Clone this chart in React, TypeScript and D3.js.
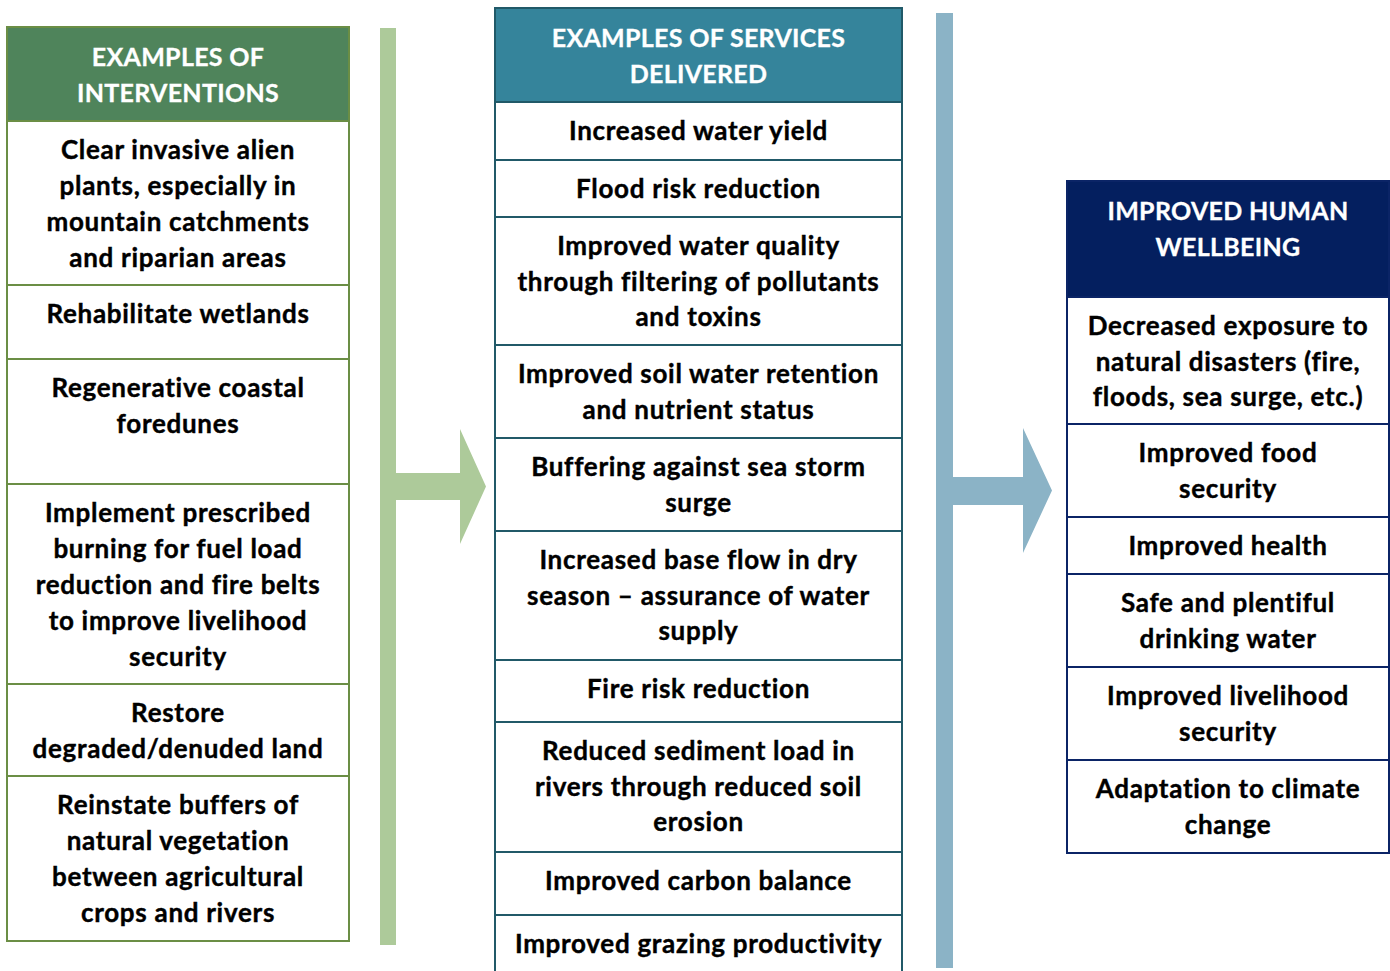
import { useRef, useEffect } from 'react'
import * as d3 from 'd3'

// Texto de cada columna (una entrada por celda, una cadena por línea)
const interventionsHeader = ['EXAMPLES OF', 'INTERVENTIONS']
const interventions = [
  ['Clear invasive alien', 'plants, especially in', 'mountain catchments', 'and riparian areas'],
  ['Rehabilitate wetlands'],
  ['Regenerative coastal', 'foredunes'],
  ['Implement prescribed', 'burning for fuel load', 'reduction and fire belts', 'to improve livelihood', 'security'],
  ['Restore', 'degraded/denuded land'],
  ['Reinstate buffers of', 'natural vegetation', 'between agricultural', 'crops and rivers'],
]

const servicesHeader = ['EXAMPLES OF SERVICES', 'DELIVERED']
const services = [
  ['Increased water yield'],
  ['Flood risk reduction'],
  ['Improved water quality', 'through filtering of pollutants', 'and toxins'],
  ['Improved soil water retention', 'and nutrient status'],
  ['Buffering against sea storm', 'surge'],
  ['Increased base flow in dry', 'season – assurance of water', 'supply'],
  ['Fire risk reduction'],
  ['Reduced sediment load in', 'rivers through reduced soil', 'erosion'],
  ['Improved carbon balance'],
  ['Improved grazing productivity'],
]

const wellbeingHeader = ['IMPROVED HUMAN', 'WELLBEING']
const wellbeing = [
  ['Decreased exposure to', 'natural disasters (fire,', 'floods, sea surge, etc.)'],
  ['Improved food', 'security'],
  ['Improved health'],
  ['Safe and plentiful', 'drinking water'],
  ['Improved livelihood', 'security'],
  ['Adaptation to climate', 'change'],
]

// Maquetación (bordes de filas en px)
const columns = [
  { header: interventionsHeader, cells: interventions, x0: 7, x1: 349,
    edges: [27, 121, 285, 359, 484, 684, 776, 941],
    fill: '#4f845b', stroke: '#6b8e45', lineH: 36 },
  { header: servicesHeader, cells: services, x0: 495, x1: 902,
    edges: [8, 102, 160, 217, 345, 438, 531, 660, 722, 852, 915, 985],
    fill: '#35849b', stroke: '#215968', lineH: 35.5 },
  { header: wellbeingHeader, cells: wellbeing, x0: 1067, x1: 1389,
    edges: [181, 297, 424, 517, 574, 667, 760, 853],
    fill: '#041f5f', stroke: '#0b2466', lineH: 35.5 },
]

const arrows = [
  { x0: 380, x1: 396, top: 28, bottom: 945, bandTop: 473, bandBottom: 500, headX: 460, tipX: 486, headTop: 429, headBottom: 544, fill: '#adca9a' },
  { x0: 936, x1: 953, top: 13, bottom: 968, bandTop: 477, bandBottom: 505, headX: 1023, tipX: 1052, headTop: 428, headBottom: 553, fill: '#8bb3c6' },
]

const FONT = 'Lato, "Open Sans", sans-serif'

export default function App() {
  const svgRef = useRef<SVGSVGElement>(null)

  useEffect(() => {
    const svg = d3.select(svgRef.current)
    svg.selectAll('*').remove()

    // Flechas
    arrows.forEach(a => {
      const cy = (a.headTop + a.headBottom) / 2
      const pts: [number, number][] = [
        [a.x0, a.top], [a.x1, a.top], [a.x1, a.bandTop], [a.headX, a.bandTop],
        [a.headX, a.headTop], [a.tipX, cy], [a.headX, a.headBottom],
        [a.headX, a.bandBottom], [a.x1, a.bandBottom], [a.x1, a.bottom], [a.x0, a.bottom],
      ]
      svg.append('path')
        .attr('d', d3.line()(pts) + 'Z')
        .attr('fill', a.fill)
    })

    columns.forEach(col => {
      const g = svg.append('g')
      const cx = (col.x0 + col.x1) / 2
      const w = col.x1 - col.x0
      const e = col.edges

      // Cabecera
      g.append('rect')
        .attr('x', col.x0).attr('y', e[0])
        .attr('width', w).attr('height', e[1] - e[0])
        .attr('fill', col.fill)
      g.append('text')
        .attr('text-anchor', 'middle')
        .attr('font-family', FONT)
        .attr('font-weight', 700)
        .attr('font-size', '25px')
        .attr('letter-spacing', '0.3px')
        .attr('fill', '#fff')
        .attr('stroke', '#fff')
        .attr('stroke-width', 0.3)
        .selectAll('tspan')
        .data(col.header)
        .join('tspan')
        .attr('x', cx)
        .attr('y', (d, i) => e[0] + 30 + i * col.lineH + 9)
        .text(d => d)

      // Celdas
      col.cells.forEach((lines, k) => {
        const top = e[k + 1]
        const bottom = e[k + 2]
        g.append('rect')
          .attr('x', col.x0).attr('y', top)
          .attr('width', w).attr('height', bottom - top)
          .attr('fill', '#fff')
          .attr('stroke', col.stroke)
          .attr('stroke-width', 2)
        g.append('text')
          .attr('text-anchor', 'middle')
          .attr('font-family', FONT)
          .attr('font-weight', 700)
          .attr('font-size', '26px')
          .attr('letter-spacing', '0.7px')
          .attr('fill', '#000')
          .attr('stroke', '#000')
          .attr('stroke-width', 0.4)
          .selectAll('tspan')
          .data(lines)
          .join('tspan')
          .attr('x', cx)
          .attr('y', (d, i) => top + 29 + i * col.lineH + 9)
          .text(d => d)
      })

      // Borde exterior
      g.append('rect')
        .attr('x', col.x0).attr('y', e[0])
        .attr('width', w).attr('height', e[e.length - 1] - e[0])
        .attr('fill', 'none')
        .attr('stroke', col.stroke)
        .attr('stroke-width', 2)
    })
  }, [])

  return (
    <svg ref={svgRef} width={1390} height={971}
      style={{ position: 'absolute', left: 0, top: 0, display: 'block', background: '#fff' }} />
  )
}
